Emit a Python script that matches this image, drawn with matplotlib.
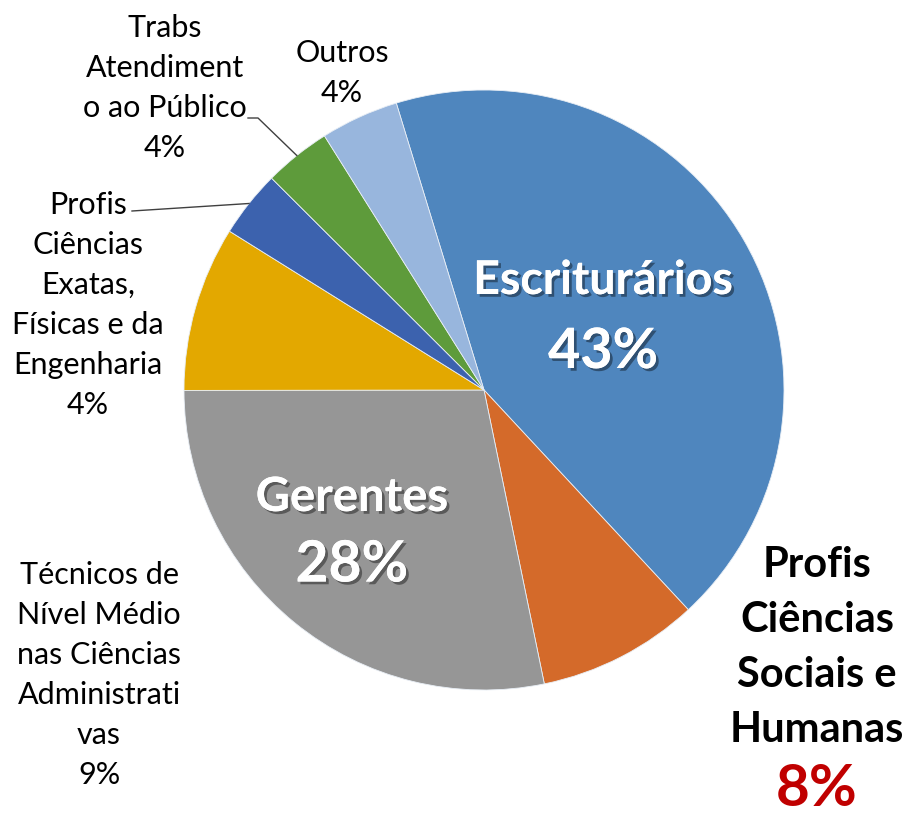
import numpy as np
import matplotlib
matplotlib.use('Agg')
import matplotlib.pyplot as plt
import matplotlib.patheffects as pe

plt.rcParams['font.family'] = ['Lato', 'DejaVu Sans']

# dados (ordem horária a partir do topo)
categorias = ['Escriturários', 'Profis Ciências Sociais e Humanas', 'Gerentes',
              'Técnicos de Nível Médio nas Ciências Administrativas',
              'Profis Ciências Exatas, Físicas e da Engenharia',
              'Trabs Atendimento ao Público', 'Outros']
valores = [42.8, 8.7, 28.2, 8.9, 3.6, 3.6, 4.2]
rotulos_pct = ['43%', '8%', '28%', '9%', '4%', '4%', '4%']
cores = ['#4F86BE', '#D46A2A', '#969696', '#E3A800', '#3C62AE', '#5E9B3B', '#98B6DD']

W, H = 907, 816
fig = plt.figure(figsize=(W / 100, H / 100), dpi=100)
ax = fig.add_axes([0, 0, 1, 1])
ax.set_xlim(0, W)
ax.set_ylim(0, H)
ax.set_aspect('equal')
ax.axis('off')

cx, cy, r = 484, H - 390, 300
wedges, _ = ax.pie(valores, colors=cores, startangle=107, counterclock=False,
                   center=(cx, cy), radius=r,
                   wedgeprops=dict(edgecolor='#e8eef5', linewidth=0.6))
ax.set_xlim(0, W)
ax.set_ylim(0, H)


def py(y):
    return H - y


sombra = [pe.withSimplePatchShadow(offset=(2, -2), shadow_rgbFace='black', alpha=0.4),
          pe.Normal()]

# rótulos grandes dentro das fatias
ax.text(603, py(280), 'Escriturários', color='white', fontsize=33.5, fontweight='bold',
        ha='center', va='center', path_effects=sombra)
ax.text(603, py(352), rotulos_pct[0], color='white', fontsize=40, fontweight='bold',
        ha='center', va='center', path_effects=sombra)
ax.text(352, py(497), 'Gerentes', color='white', fontsize=34, fontweight='bold',
        ha='center', va='center', path_effects=sombra)
ax.text(352, py(565), rotulos_pct[2], color='white', fontsize=41, fontweight='bold',
        ha='center', va='center', path_effects=sombra)

# Profis Ciências Sociais e Humanas (destaque)
for i, linha in enumerate(['Profis', 'Ciências', 'Sociais e', 'Humanas']):
    ax.text(817, py(565 + 55 * i), linha, color='black', fontsize=30, fontweight='bold',
            ha='center', va='center')
ax.text(817, py(790), rotulos_pct[1], color='#C00000', fontsize=42, fontweight='bold',
        ha='center', va='center')

# rótulos externos
fs = 22
ls = 1.52
ax.text(342, py(73), 'Outros\n' + rotulos_pct[6], fontsize=fs, ha='center', va='center',
        linespacing=ls)
ax.text(165, py(88), 'Trabs\nAtendiment\no ao Público\n' + rotulos_pct[5], fontsize=fs,
        ha='center', va='center', linespacing=ls)
ax.text(88, py(305), 'Profis\nCiências\nExatas,\nFísicas e da\nEngenharia\n' + rotulos_pct[4],
        fontsize=fs, ha='center', va='center', linespacing=ls)
ax.text(99, py(675), 'Técnicos de\nNível Médio\nnas Ciências\nAdministrati\nvas\n' + rotulos_pct[3],
        fontsize=fs, ha='center', va='center', linespacing=ls)

# linhas de chamada até o meio das fatias
def ponto_meio(w):
    ang = np.deg2rad((w.theta1 + w.theta2) / 2)
    return cx + r * np.cos(ang), cy + r * np.sin(ang)

x5, y5 = ponto_meio(wedges[5])
ax.plot([248, 258, x5], [py(118), py(118), y5], color='#404040', lw=1)
x4, y4 = ponto_meio(wedges[4])
ax.plot([132, x4], [py(211), y4], color='#404040', lw=1)

fig.savefig('out.png', dpi=100)
